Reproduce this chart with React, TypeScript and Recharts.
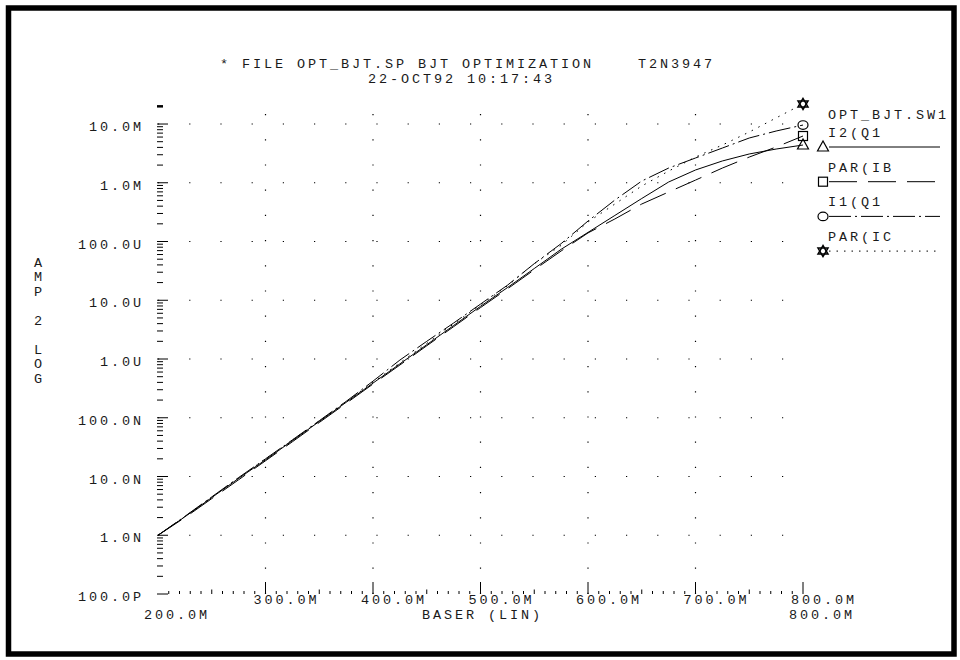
import React from 'react';
import { LineChart, Line, XAxis, YAxis, ReferenceLine } from 'recharts';

// BASER sweep (volts, 25M steps from 200M to 800M)
const baser = [
  0.2, 0.225, 0.25, 0.275, 0.3, 0.325, 0.35, 0.375, 0.4, 0.425, 0.45, 0.475, 0.5,
  0.525, 0.55, 0.575, 0.6, 0.625, 0.65, 0.675, 0.7, 0.725, 0.75, 0.775, 0.8,
];

// I2(Q1 – simulated collector current (A)
const i2q1 = [
  1.0e-9, 2.06e-9, 4.38e-9, 9.29e-9, 1.92e-8, 4.07e-8, 8.63e-8, 1.83e-7, 3.89e-7,
  8.26e-7, 1.75e-6, 3.72e-6, 7.89e-6, 1.64e-5, 3.47e-5, 7.37e-5, 1.43e-4, 2.78e-4,
  5.4e-4, 1.03e-3, 1.65e-3, 2.35e-3, 3.09e-3, 3.75e-3, 4.39e-3,
];

// PAR(IB – measured parameter curve (A)
const parIb = [
  1.0e-9, 2.0e-9, 4.2e-9, 8.8e-9, 1.85e-8, 3.9e-8, 8.3e-8, 1.76e-7, 3.75e-7,
  7.9e-7, 1.68e-6, 3.55e-6, 7.5e-6, 1.56e-5, 3.3e-5, 6.9e-5, 1.4e-4, 2.42e-4,
  4.35e-4, 6.96e-4, 1.11e-3, 1.78e-3, 2.74e-3, 4.06e-3, 6.25e-3,
];

// I1(Q1 – simulated base-side current (A)
const i1q1 = [
  1.0e-9, 2.1e-9, 4.5e-9, 9.6e-9, 2.0e-8, 4.2e-8, 8.9e-8, 1.9e-7, 4.2e-7,
  9.6e-7, 2.0e-6, 4.1e-6, 8.6e-6, 1.8e-5, 4.2e-5, 9.2e-5, 2.23e-4, 5.08e-4,
  1.07e-3, 1.78e-3, 2.64e-3, 3.9e-3, 5.78e-3, 7.6e-3, 9.61e-3,
];

// PAR(IC – measured parameter curve (A)
const parIc = [
  1.0e-9, 2.08e-9, 4.45e-9, 9.4e-9, 2.0e-8, 4.15e-8, 8.8e-8, 1.88e-7, 4.0e-7,
  8.6e-7, 1.85e-6, 3.95e-6, 8.4e-6, 1.75e-5, 4.2e-5, 8.6e-5, 2.15e-4, 4.35e-4,
  8.81e-4, 1.58e-3, 2.74e-3, 4.39e-3, 7.31e-3, 1.27e-2, 2.2e-2,
];

// Y axis decades and their labels
const yDecades = [1e-10, 1e-9, 1e-8, 1e-7, 1e-6, 1e-5, 1e-4, 1e-3, 1e-2];
const yDecadeLabels = ['100.0P', '1.0N', '10.0N', '100.0N', '1.0U', '10.0U', '100.0U', '1.0M', '10.0M'];
const yTop = 2.2e-2;

// X axis major ticks, labels, and end labels (second row)
const xMajors = [0.3, 0.4, 0.5, 0.6, 0.7, 0.8];
const xMajorLabels = ['300.0M', '400.0M', '500.0M', '600.0M', '700.0M', '800.0M'];
const xEnds = [0.2, 0.8];
const xEndLabels = ['200.0M', '800.0M'];
const xGrid = [0.3, 0.4, 0.5, 0.6, 0.7];

const data = baser.map((x, i) => ({
  x,
  i2q1: i2q1[i],
  parIb: parIb[i],
  i1q1: i1q1[i],
  parIc: parIc[i],
}));

type MarkerKind = 'tri' | 'sq' | 'circ' | 'star';

const series: { key: string; name: string; dash?: string; marker: MarkerKind }[] = [
  { key: 'i2q1', name: 'I2(Q1', dash: undefined, marker: 'tri' },
  { key: 'parIb', name: 'PAR(IB', dash: '28 11', marker: 'sq' },
  { key: 'i1q1', name: 'I1(Q1', dash: '22 4 2 4', marker: 'circ' },
  { key: 'parIc', name: 'PAR(IC', dash: '1.5 6', marker: 'star' },
];

const INK = '#000';
const FONT: React.CSSProperties = {
  fontFamily: '"Liberation Mono", "DejaVu Sans Mono", monospace',
  fontSize: 13.5,
  letterSpacing: 2.9,
  fill: '#1a1a1a',
  whiteSpace: 'pre',
};

// Y tick list: every decade plus its 2..9 sub-divisions
const yTicks: number[] = [];
for (let e = -10; e <= -3; e++) {
  for (let m = 1; m <= 9; m++) yTicks.push(Number((m * Math.pow(10, e)).toPrecision(3)));
}
yTicks.push(1e-2, 2e-2);

// X tick list: every 10M
const xTicks: number[] = [];
for (let k = 20; k <= 80; k++) xTicks.push(k / 100);

const isDecade = (v: number) => Math.abs(Math.log10(v) - Math.round(Math.log10(v))) < 1e-6;
const decadeIndex = (v: number) => yDecades.findIndex((d) => Math.abs(Math.log10(d) - Math.log10(v)) < 1e-6);

function Marker({ kind, cx, cy }: { kind: MarkerKind; cx: number; cy: number }) {
  const common = { fill: 'none', stroke: INK, strokeWidth: 1.2 };
  if (kind === 'tri') {
    return <polygon points={`${cx},${cy - 6} ${cx - 5.5},${cy + 4} ${cx + 5.5},${cy + 4}`} {...common} />;
  }
  if (kind === 'sq') {
    return <rect x={cx - 4.5} y={cy - 4.5} width={9} height={9} {...common} />;
  }
  if (kind === 'circ') {
    return <ellipse cx={cx} cy={cy} rx={5} ry={4.3} {...common} />;
  }
  return (
    <g {...common} strokeWidth={1.5}>
      <polygon points={`${cx},${cy - 5.5} ${cx - 5},${cy + 3} ${cx + 5},${cy + 3}`} />
      <polygon points={`${cx},${cy + 5.5} ${cx - 5},${cy - 3} ${cx + 5},${cy - 3}`} />
    </g>
  );
}

const endDot = (kind: MarkerKind) => (p: any) => {
  const { cx, cy, index } = p;
  if (index !== baser.length - 1 || cx == null || cy == null) return <g key={`d-${kind}-${index}`} />;
  return <Marker key={`m-${kind}`} kind={kind} cx={cx} cy={cy} />;
};

function LeftTick(props: any) {
  const { x, y, payload } = props;
  const v = payload.value as number;
  const major = isDecade(v);
  const idx = major ? decadeIndex(v) : -1;
  const top = Math.abs(v - 2e-2) < 1e-9;
  return (
    <g>
      <line x1={x - 1} x2={x + (major ? 10 : 5)} y1={y} y2={y} stroke={INK} strokeWidth={top ? 2.5 : 1} />
      {idx >= 0 && (
        <text x={x - 14} y={y + 7} textAnchor="end" style={FONT}>
          {yDecadeLabels[idx]}
        </text>
      )}
    </g>
  );
}

function RightTick(props: any) {
  const { x, y, payload } = props;
  const v = payload.value as number;
  const major = isDecade(v);
  return <line x1={x + 1} x2={x + (major ? 12 : 6)} y1={y} y2={y} stroke={INK} strokeWidth={1} />;
}

function BottomTick(props: any) {
  const { x, y, payload } = props;
  const v = payload.value as number;
  const k = Math.round(v * 100);
  const mi = xMajors.findIndex((m) => Math.round(m * 100) === k);
  const ei = xEnds.findIndex((m) => Math.round(m * 100) === k);
  const isEdge = k === 20;
  return (
    <g>
      {!isEdge && (
        <line
          x1={x}
          x2={x}
          y1={y}
          y2={y - (mi >= 0 ? 12 : k % 5 === 0 ? 4.5 : 3)}
          stroke={INK}
          strokeWidth={1}
        />
      )}
      {mi >= 0 && (
        <text x={x - 12} y={y + 9.5} textAnchor="start" style={FONT}>
          {xMajorLabels[mi]}
        </text>
      )}
      {ei >= 0 && (
        <text x={x - 14} y={y + 24.5} textAnchor="start" style={FONT}>
          {xEndLabels[ei]}
        </text>
      )}
    </g>
  );
}

const PLOT_LEFT = 158;
const PLOT_RIGHT = 803;

export default function App() {
  const yLabelRows = ['A', 'M', 'P', '', '2', '', 'L', 'O', 'G'];
  return (
    <div style={{ position: 'absolute', left: 0, top: 0, width: 960, height: 660, background: '#fff' }}>
      <LineChart
        width={960}
        height={660}
        data={data}
        margin={{ top: 103.9, right: 7, bottom: 26, left: 8 }}
      >
        <XAxis
          dataKey="x"
          type="number"
          domain={[0.2, 0.8]}
          ticks={xTicks}
          interval={0}
          tick={<BottomTick />}
          tickLine={false}
          axisLine={false}
          tickSize={0}
          tickMargin={0}
          height={40}
        />
        <YAxis
          yAxisId="left"
          type="number"
          scale="log"
          domain={[1e-10, yTop]}
          ticks={yTicks}
          interval={0}
          tick={<LeftTick />}
          tickLine={false}
          axisLine={false}
          tickSize={0}
          tickMargin={0}
          width={150}
        />
        <YAxis
          yAxisId="right"
          orientation="right"
          type="number"
          scale="log"
          domain={[1e-10, yTop]}
          ticks={yTicks}
          interval={0}
          tick={<RightTick />}
          tickLine={false}
          axisLine={false}
          tickSize={0}
          tickMargin={0}
          width={150}
        />
        {yDecades.slice(1).map((d) => (
          <ReferenceLine key={`h${d}`} yAxisId="left" y={d} stroke={INK} strokeWidth={1.2} strokeDasharray="1.2 30" />
        ))}
        {xGrid.map((g) => (
          <ReferenceLine key={`v${g}`} yAxisId="left" x={g} stroke={INK} strokeWidth={1.2} strokeDasharray="1.2 24" />
        ))}
        {series.map((s) => (
          <Line
            key={s.key}
            yAxisId="left"
            type="linear"
            dataKey={s.key}
            stroke={INK}
            strokeWidth={1}
            strokeDasharray={s.dash}
            dot={endDot(s.marker)}
            activeDot={false}
            isAnimationActive={false}
          />
        ))}
      </LineChart>

      <svg
        width={960}
        height={660}
        style={{ position: 'absolute', left: 0, top: 0, pointerEvents: 'none' }}
      >
        {/* page frame */}
        <rect x={8.5} y={8} width={945.5} height={646} fill="none" stroke={INK} strokeWidth={5.5} />

        {/* title block */}
        <text x={220} y={67.5} style={FONT} xmlSpace="preserve">
          {'* FILE OPT_BJT.SP BJT OPTIMIZATION    T2N3947'}
        </text>
        <text x={368} y={82.5} style={FONT} xmlSpace="preserve">
          {'22-OCT92 10:17:43'}
        </text>

        {/* y axis title, stacked */}
        {yLabelRows.map((c, i) => (
          <text key={i} x={38} y={266.5 + i * 14.5} textAnchor="middle" style={{ ...FONT, letterSpacing: 0 }}>
            {c}
          </text>
        ))}

        {/* x axis title */}
        <text x={(PLOT_LEFT + PLOT_RIGHT) / 2 + 2} y={618.5} textAnchor="middle" style={FONT} xmlSpace="preserve">
          {'BASER (LIN)'}
        </text>

        {/* legend */}
        <text x={828} y={119} style={FONT}>
          OPT_BJT.SW1
        </text>
        {series.map((s, i) => {
          const ly = 147 + i * 34.7;
          return (
            <g key={s.key}>
              <text x={828} y={ly - 10} style={FONT}>
                {s.name}
              </text>
              <line x1={829} x2={940} y1={ly} y2={ly} stroke={INK} strokeWidth={1} strokeDasharray={s.dash} />
              <Marker kind={s.marker} cx={823} cy={ly} />
            </g>
          );
        })}
      </svg>
    </div>
  );
}
